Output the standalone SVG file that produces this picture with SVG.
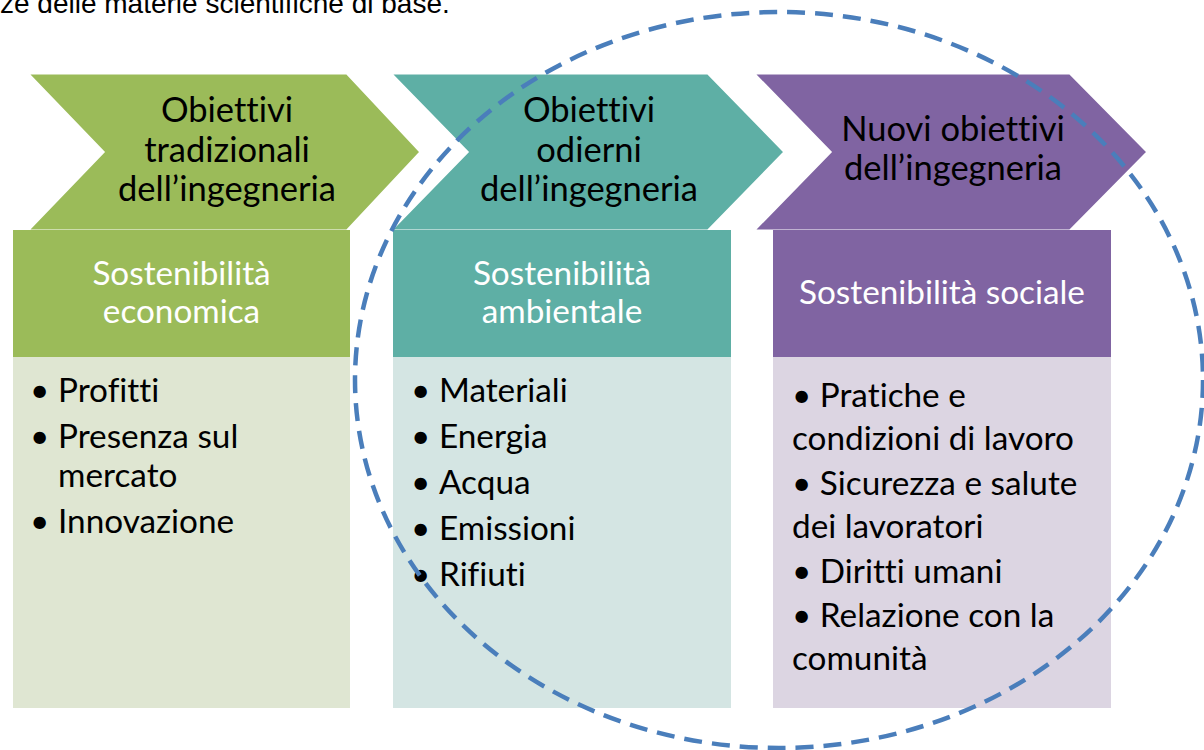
<svg xmlns="http://www.w3.org/2000/svg" width="1204" height="750" viewBox="0 0 1204 750">
<style>
.chev{stroke:#fff;stroke-width:3;stroke-linejoin:miter}
.ct{font-family:Lato,"Open Sans",sans-serif;font-size:34.5px;fill:#000;text-anchor:middle;font-variant-ligatures:none}
.ht{font-family:Lato,"Open Sans",sans-serif;font-size:33.3px;fill:#fff;text-anchor:middle;font-variant-ligatures:none}
.bt{font-family:Lato,"Open Sans",sans-serif;font-size:33.3px;fill:#000;font-variant-ligatures:none}
.top{font-family:"Liberation Sans",Arial,sans-serif;font-size:28px;fill:#000}
</style>
<rect width="1204" height="750" fill="#fff"/>
<text class="top" x="0" y="13">ze delle materie scientifiche di base.</text>

<g id="col1">
<polygon class="chev" fill="#9BBB59" points="27,73 347,73 421,152 347,231 27,231 103,152"/>
<text class="ct" x="227" y="122">Obiettivi</text>
<text class="ct" x="227" y="162">tradizionali</text>
<text class="ct" x="227" y="201">dell’ingegneria</text>
<rect x="13" y="230" width="337" height="127" fill="#9BBB59"/>
<text class="ht" x="181.5" y="285">Sostenibilità</text>
<text class="ht" x="181.5" y="323">economica</text>
<rect x="13" y="357" width="337" height="351" fill="#DFE6D2"/>
<text class="bt"><tspan x="30" y="402">•</tspan><tspan x="58" y="402">Profitti</tspan><tspan x="30" y="448">•</tspan><tspan x="58" y="448">Presenza sul</tspan><tspan x="58" y="487">mercato</tspan><tspan x="30" y="533">•</tspan><tspan x="58" y="533">Innovazione</tspan></text>
</g>

<g id="col2">
<polygon class="chev" fill="#5EAFA5" points="390,73 708,73 785,152 708,231 390,231 467,152"/>
<text class="ct" x="589" y="122">Obiettivi</text>
<text class="ct" x="589" y="162">odierni</text>
<text class="ct" x="589" y="201">dell’ingegneria</text>
<rect x="393" y="230" width="338" height="127" fill="#5EAFA5"/>
<text class="ht" x="562" y="285">Sostenibilità</text>
<text class="ht" x="562" y="323">ambientale</text>
<rect x="393" y="357" width="338" height="351" fill="#D4E5E3"/>
<text class="bt"><tspan x="411" y="402">•</tspan><tspan x="439" y="402">Materiali</tspan><tspan x="411" y="448">•</tspan><tspan x="439" y="448">Energia</tspan><tspan x="411" y="494">•</tspan><tspan x="439" y="494">Acqua</tspan><tspan x="411" y="540">•</tspan><tspan x="439" y="540">Emissioni</tspan><tspan x="411" y="586">•</tspan><tspan x="439" y="586">Rifiuti</tspan></text>
</g>

<g id="col3">
<polygon class="chev" fill="#8064A2" points="753,73 1070,73 1148,152 1070,231 753,231 830,152"/>
<text class="ct" x="953" y="141">Nuovi obiettivi</text>
<text class="ct" x="953" y="180">dell’ingegneria</text>
<rect x="773" y="230" width="338" height="127" fill="#8064A2"/>
<text class="ht" x="942" y="304">Sostenibilità sociale</text>
<rect x="773" y="357" width="338" height="351" fill="#DCD5E2"/>
<text class="bt"><tspan x="792" y="407">• Pratiche e</tspan><tspan x="792" y="450">condizioni di lavoro</tspan><tspan x="792" y="495">• Sicurezza e salute</tspan><tspan x="792" y="538">dei lavoratori</tspan><tspan x="792" y="583">• Diritti umani</tspan><tspan x="792" y="627">• Relazione con la</tspan><tspan x="792" y="670">comunità</tspan></text>
</g>

<g id="connectors">
<ellipse cx="779" cy="380" rx="424" ry="368" fill="none" stroke="#4A7EBB" stroke-width="4.5" stroke-dasharray="18 10"/>
</g>
</svg>
